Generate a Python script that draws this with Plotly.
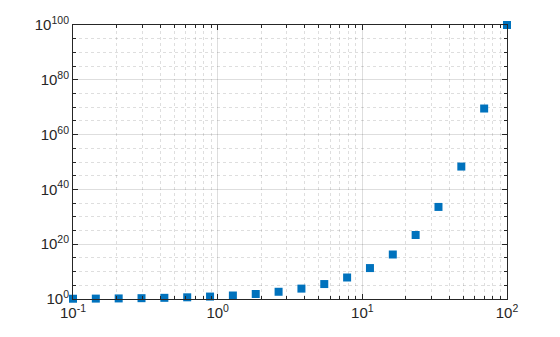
import plotly.graph_objects as go

x_vals = [0.1, 0.1438, 0.2069, 0.2976, 0.4281, 0.6158, 0.8859, 1.274, 1.833, 2.637,
          3.793, 5.456, 7.848, 11.29, 16.24, 23.36, 33.60, 48.33, 69.52, 100.0]
y_vals = [1.259, 1.393, 1.610, 1.984, 2.680, 4.128, 7.690, 18.8, 68.1, 433.6,
          6209, 2.86e5, 7.05e7, 1.95e11, 1.74e16, 2.29e23, 3.98e33, 2.14e48, 3.3e69, 1e100]

x_ticks = [0.1, 1, 10, 100]
x_ticktext = ["10<sup>-1</sup>", "10<sup>0</sup>", "10<sup>1</sup>", "10<sup>2</sup>"]
y_ticks = [1e0, 1e20, 1e40, 1e60, 1e80, 1e100]
y_ticktext = ["10<sup>0</sup>", "10<sup>20</sup>", "10<sup>40</sup>", "10<sup>60</sup>",
              "10<sup>80</sup>", "10<sup>100</sup>"]

x_minor = [m * 10.0**d for d in (-1, 0, 1) for m in range(2, 10)]
y_minor = [10.0**e for e in range(5, 100, 5) if e % 20 != 0]

fig = go.Figure()
fig.add_trace(go.Scatter(
    x=x_vals, y=y_vals, mode="markers",
    marker=dict(symbol="square", size=8, color="#0072BD", line=dict(width=0)),
    cliponaxis=False,
))

axis_common = dict(
    type="log", showline=True, linecolor="#262626", linewidth=1,
    mirror="ticks", ticks="inside", ticklen=5, tickcolor="#262626",
    showgrid=True, gridcolor="rgba(0,0,0,0.13)", gridwidth=1,
    zeroline=False, tickfont=dict(family="Liberation Sans, Arial", size=15, color="#262626"),
)

fig.update_xaxes(
    **axis_common, range=[-1, 2], tickmode="array", tickvals=x_ticks, ticktext=x_ticktext,
    minor=dict(tickmode="array", tickvals=x_minor, ticks="inside", ticklen=3,
               tickcolor="#262626", showgrid=True, gridcolor="rgba(0,0,0,0.13)",
               griddash="3px,3px", gridwidth=1),
)
fig.update_yaxes(
    **axis_common, range=[0, 100], tickmode="array", tickvals=y_ticks, ticktext=y_ticktext,
    minor=dict(tickmode="array", tickvals=y_minor, ticks="inside", ticklen=3,
               tickcolor="#262626", showgrid=True, gridcolor="rgba(0,0,0,0.13)",
               griddash="3px,3px", gridwidth=1),
)

fig.update_layout(
    width=560, height=337, margin=dict(l=73, r=53, t=25, b=38),
    plot_bgcolor="white", paper_bgcolor="white", showlegend=False,
    font=dict(family="Liberation Sans, Arial", size=15, color="#262626"),
)

fig.write_html("out.html")
